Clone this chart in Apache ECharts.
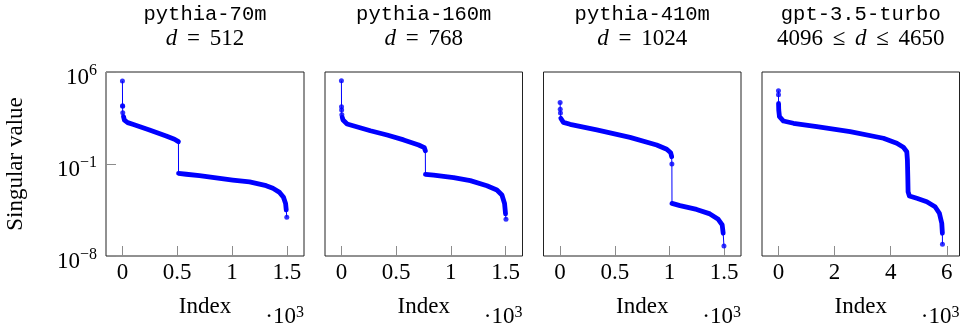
<!DOCTYPE html>
<html><head><meta charset="utf-8">
<script src="https://cdn.jsdelivr.net/npm/echarts@6/dist/echarts.min.js"></script>
<style>html,body{margin:0;padding:0;background:#fff}#c{width:961px;height:329px}</style>
</head><body><div id="c"></div>
<script>
// ---------- data ----------
const panelModels = ['pythia-70m', 'pythia-160m', 'pythia-410m', 'gpt-3.5-turbo'];
const panelDims = ['d = 512', 'd = 768', 'd = 1024', '4096 ≤ d ≤ 4650'];
const xTicks123 = [0, 500, 1000, 1500];
const xTicks4 = [0, 2000, 4000, 6000];
const yTicks = [1e-8, 1e-1, 1e6];

// pythia-70m
const p1HeadIdx = [0, 1, 2, 3];
const p1HeadVal = [2.1e5, 2.7e3, 2.5e3, 8.0e2];
const p1UpperIdx = [10, 18, 48, 94, 247, 399, 475, 511];
const p1UpperVal = [4.0e2, 2.2e2, 1.4e2, 1.05e2, 39, 13.5, 7.6, 5.0];
const p1LowerIdx = [512, 582, 703, 1007, 1160, 1312, 1373, 1434, 1470, 1489, 1495];
const p1LowerVal = [1.95e-2, 1.66e-2, 1.29e-2, 6.0e-3, 4.3e-3, 2.24e-3, 1.41e-3, 6.9e-4, 2.9e-4, 1.0e-4, 3.2e-5];
const p1TailIdx = [1500];
const p1TailVal = [8.7e-6];

// pythia-160m
const p2HeadIdx = [0, 1, 2, 4];
const p2HeadVal = [2.2e5, 2.3e3, 1.26e3, 5.6e2];
const p2UpperIdx = [8, 15, 52, 265, 417, 569, 706, 758, 767];
const p2UpperVal = [3.5e2, 2.2e2, 1.1e2, 34, 16, 6.8, 2.8, 1.74, 1.02];
const p2LowerIdx = [768, 843, 1026, 1178, 1330, 1421, 1467, 1491, 1500];
const p2LowerVal = [1.6e-2, 1.4e-2, 9.1e-3, 5.4e-3, 2.2e-3, 1.05e-3, 4.4e-4, 1.0e-4, 1.6e-5];
const p2TailIdx = [1504];
const p2TailVal = [6.3e-6];

// pythia-410m
const p3HeadIdx = [0, 1, 3];
const p3HeadVal = [4.7e3, 1.45e3, 7.6e2];
const p3UpperIdx = [6, 30, 91, 335, 639, 883, 975, 1011, 1020];
const p3UpperVal = [3.0e2, 1.48e2, 1.05e2, 39, 10.7, 2.8, 1.32, 0.72, 0.36];
const p3MidIdx = [1022];
const p3MidVal = [0.1];
const p3LowerIdx = [1023, 1096, 1248, 1370, 1446, 1482, 1491];
const p3LowerVal = [1.0e-4, 6.8e-5, 3.5e-5, 1.6e-5, 6.2e-6, 2.3e-6, 5.4e-7];
const p3TailIdx = [1498];
const p3TailVal = [5.8e-8];

// gpt-3.5-turbo
const p4HeadIdx = [0, 1];
const p4HeadVal = [3.8e4, 1.86e4];
const p4UpperIdx = [3, 10, 36, 178, 534, 1368, 2554, 3741, 4218, 4453, 4574, 4596, 4610, 4620, 4667, 4930, 5287, 5582, 5736, 5821, 5843];
const p4UpperVal = [4.0e3, 1.26e3, 4.0e2, 1.86e2, 1.26e2, 69, 29, 9.1, 3.8, 1.86, 0.87, 0.2, 1.07e-2, 7.8e-4, 3.7e-4, 2.45e-4, 1.35e-4, 5.6e-5, 1.78e-5, 3.1e-6, 5.4e-7];
const p4TailIdx = [5845];
const p4TailVal = [7.8e-8];

// ---------- build ----------
const pts = (ix, vs) => ix.map((x, k) => [x, vs[k]]);
const panels = [
  { head: pts(p1HeadIdx, p1HeadVal), bands: [pts(p1UpperIdx, p1UpperVal), pts(p1LowerIdx, p1LowerVal)], mid: [], tail: pts(p1TailIdx, p1TailVal) },
  { head: pts(p2HeadIdx, p2HeadVal), bands: [pts(p2UpperIdx, p2UpperVal), pts(p2LowerIdx, p2LowerVal)], mid: [], tail: pts(p2TailIdx, p2TailVal) },
  { head: pts(p3HeadIdx, p3HeadVal), bands: [pts(p3UpperIdx, p3UpperVal), pts(p3LowerIdx, p3LowerVal)], mid: pts(p3MidIdx, p3MidVal), tail: pts(p3TailIdx, p3TailVal) },
  { head: pts(p4HeadIdx, p4HeadVal), bands: [pts(p4UpperIdx, p4UpperVal)], mid: [], tail: pts(p4TailIdx, p4TailVal) }
];

const SERIF = 'Liberation Serif';
const MONO = 'Liberation Mono';
const BLUE = '#0000ff';
const gridLefts = [106, 325, 543.5, 762];
const gridW = [198, 197.5, 197.5, 197.5];
const xRanges = [[-150, 1657], [-150, 1655], [-152, 1654], [-587, 6453]];

const grids = [], xAxes = [], yAxes = [], series = [], titles = [], graphics = [];
panels.forEach((p, i) => {
  grids.push({ left: gridLefts[i], top: 72, width: gridW[i], height: 184, show: true, borderColor: '#222', borderWidth: 1, backgroundColor: 'transparent' });
  const ticks = i === 3 ? xTicks4 : xTicks123;
  xAxes.push({
    gridIndex: i, type: 'value', min: xRanges[i][0], max: xRanges[i][1],
    name: 'Index', nameLocation: 'middle', nameGap: 39,
    nameTextStyle: { fontFamily: SERIF, fontSize: 23, color: '#000' },
    axisLine: { show: false, onZero: false },
    axisTick: { show: true, inside: true, length: 10, customValues: ticks, lineStyle: { color: '#8c8c8c', width: 1 } },
    axisLabel: { show: true, customValues: ticks, margin: 5, fontFamily: SERIF, fontSize: 23, color: '#000', formatter: v => String(v / 1000) },
    splitLine: { show: false }
  });
  yAxes.push({
    gridIndex: i, type: 'log', logBase: 10, min: yTicks[0], max: yTicks[2], interval: 7,
    name: i === 0 ? 'Singular value' : '', nameLocation: 'middle', nameGap: 79, nameRotate: 90,
    nameTextStyle: { fontFamily: SERIF, fontSize: 23, color: '#000' },
    axisLine: { show: false, onZero: false },
    axisTick: { show: i === 0, inside: true, length: 10, lineStyle: { color: '#8c8c8c', width: 1 } },
    axisLabel: {
      show: i === 0, margin: 9, padding: [11, 0, 0, 0], fontFamily: SERIF, fontSize: 23, color: '#000',
      formatter: v => '{b|10}{s|' + String(Math.round(Math.log10(v))).replace('-', '\u2212') + '}',
      rich: {
        b: { fontFamily: SERIF, fontSize: 23, lineHeight: 30, color: '#000' },
        s: { fontFamily: SERIF, fontSize: 16, lineHeight: 16, verticalAlign: 'top', color: '#000' }
      }
    },
    splitLine: { show: false }
  });
  const all = [].concat(p.head, p.bands[0], p.mid, p.bands[1] || [], p.tail);
  series.push({ type: 'line', xAxisIndex: i, yAxisIndex: i, data: all, showSymbol: false, symbol: 'none', lineStyle: { color: BLUE, width: 1 }, z: 2, animation: false });
  p.bands.forEach(b => series.push({ type: 'line', xAxisIndex: i, yAxisIndex: i, data: b, showSymbol: false, symbol: 'none', lineStyle: { color: BLUE, width: 4.8, cap: 'round', join: 'round' }, z: 3, animation: false }));
  series.push({ type: 'scatter', xAxisIndex: i, yAxisIndex: i, data: [].concat(p.head, p.mid, p.tail), symbol: 'circle', symbolSize: 5, itemStyle: { color: BLUE }, z: 4, animation: false });

  const cx = gridLefts[i] + gridW[i] / 2;
  titles.push({ text: panelModels[i], left: cx, top: 4.5, textAlign: 'center', padding: 0, textStyle: { fontFamily: MONO, fontSize: 20.5, fontWeight: 'normal', color: '#000', lineHeight: 20.5 } });
  const dimRich = panelDims[i].replace(/d/g, '{i|d}').replace(/ (=|≤) /g, ' {o|$1} ').replace(/(\d+)/g, '{n|$1}');
  titles.push({ text: dimRich, left: cx, top: 27, textAlign: 'center', padding: 0,
    textStyle: { fontFamily: SERIF, fontSize: 23, fontWeight: 'normal', color: '#000', lineHeight: 23,
      rich: {
        i: { fontFamily: SERIF, fontSize: 23, fontStyle: 'italic', color: '#000' },
        o: { fontFamily: SERIF, fontSize: 23, color: '#000', padding: [0, 4] },
        n: { fontFamily: SERIF, fontSize: 23, color: '#000' }
      } } });
  graphics.push({ type: 'text', x: gridLefts[i] + gridW[i], y: 317, style: {
    text: '{b|·10}{s|3}', align: 'right', verticalAlign: 'middle', fill: '#000',
    rich: {
      b: { fontFamily: SERIF, fontSize: 23, lineHeight: 24, fill: '#000' },
      s: { fontFamily: SERIF, fontSize: 16, lineHeight: 16, verticalAlign: 'top', fill: '#000' }
    } } });
});

const chart = echarts.init(document.getElementById('c'), null, { renderer: 'canvas' });
chart.setOption({ animation: false, backgroundColor: '#fff', title: titles, grid: grids, xAxis: xAxes, yAxis: yAxes, series: series, graphic: graphics });
</script></body></html>
